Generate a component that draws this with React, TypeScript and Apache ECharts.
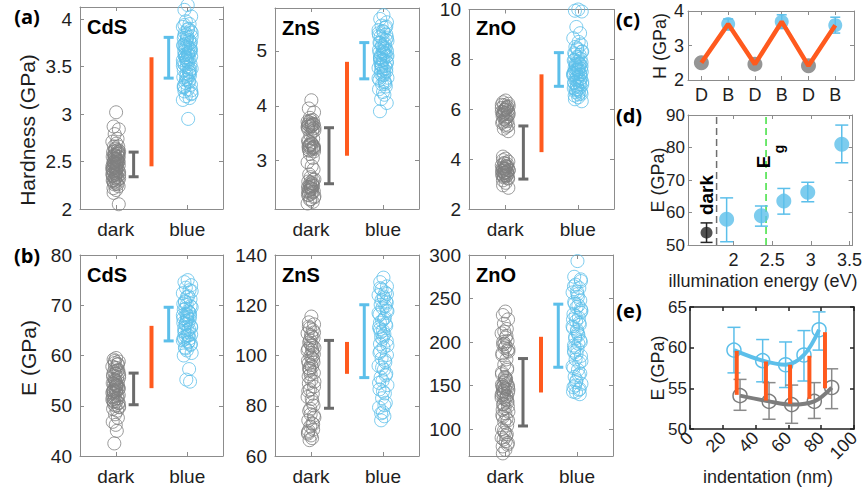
import React, { useEffect, useRef } from 'react';
import * as echarts from 'echarts';

const GRAY = '#808080';
const GRAY_ERR = '#6b6b6b';
const BLUE = '#5cbfea';
const ORANGE = '#ff5a1e';
const BOX = '#8c8c8c';
const TXT = '#1e1e1e';
const FONT = '"Liberation Sans", Arial, Helvetica, sans-serif';
const LABEL_FONT = '"Open Sans", "Liberation Sans", sans-serif';

// ---------- panels (a)/(b): categories and scatter values ----------
const groups = ['dark', 'blue'];
const groupX = [1, 2];
const barX = [1.25, 1.5, 1.74]; // gray errorbar, orange difference bar, blue errorbar
const jitter = [0.1, -0.6, 0.85, -0.3, 0.5, -0.95, 0.2, 0.7, -0.5, -0.1, 0.95, -0.75, 0.4, -0.2, 0.6, -0.85, 0.0, 0.3, -0.4, 0.8, -0.65];

// Hardness (GPa)
const hCdSDark = [3.02, 2.87, 2.84, 2.79, 2.74, 2.71, 2.69, 2.66, 2.66, 2.63, 2.61, 2.6, 2.58, 2.57, 2.55, 2.55, 2.53, 2.52, 2.5, 2.5, 2.49, 2.47, 2.46, 2.46, 2.44, 2.43, 2.42, 2.41, 2.4, 2.38, 2.38, 2.36, 2.35, 2.34, 2.32, 2.31, 2.3, 2.29, 2.27, 2.26, 2.24, 2.22, 2.2, 2.17, 2.05, 2.48, 2.52, 2.45, 2.37, 2.58,
  2.28, 2.33, 2.39, 2.44, 2.51, 2.56, 2.62, 2.35, 2.41, 2.47, 2.53, 2.59, 2.3, 2.43, 2.49, 2.55, 2.61, 2.26, 2.37, 2.45, 2.5, 2.57, 2.64, 2.32, 2.4, 2.48, 2.54, 2.6, 2.42, 2.36];
const hCdSBlue = [4.15, 4.1, 4.03, 3.98, 3.95, 3.92, 3.9, 3.88, 3.86, 3.84, 3.82, 3.8, 3.78, 3.77, 3.75, 3.73, 3.72, 3.7, 3.69, 3.67, 3.66, 3.64, 3.62, 3.61, 3.6, 3.58, 3.57, 3.55, 3.53, 3.52, 3.5, 3.48, 3.46, 3.45, 3.43, 3.41, 3.39, 3.37, 3.35, 3.33, 3.31, 3.29, 3.26, 3.24, 3.21, 3.19, 3.17, 3.15, 2.95, 3.7, 3.63, 3.56,
  3.22, 3.28, 3.34, 3.4, 3.47, 3.54, 3.59, 3.65, 3.71, 3.76, 3.83, 3.89, 3.94, 3.25, 3.36, 3.44, 3.51, 3.62, 3.68, 3.74, 3.79, 3.86, 3.3, 3.42, 3.57, 3.66, 3.72, 3.81, 3.49, 3.6];
const hZnSDark = [4.1, 3.95, 3.88, 3.78, 3.74, 3.71, 3.68, 3.66, 3.64, 3.62, 3.6, 3.57, 3.53, 3.47, 3.4, 3.36, 3.33, 3.3, 3.28, 3.26, 3.24, 3.22, 3.2, 3.17, 3.12, 3.05, 2.97, 2.9, 2.84, 2.75, 2.7, 2.66, 2.62, 2.59, 2.56, 2.54, 2.52, 2.5, 2.48, 2.46, 2.44, 2.42, 2.4, 2.37, 2.33, 2.29, 2.25, 2.22, 3.65, 3.25, 2.51,
  2.3, 2.35, 2.45, 2.55, 2.6, 2.65, 2.38, 2.49, 2.58, 3.18, 3.23, 3.27, 3.31, 3.35, 3.21, 3.29, 3.58, 3.61, 3.63, 3.67, 3.7, 3.73, 3.55, 3.66, 2.43, 2.53, 3.24, 3.62];
const hZnSBlue = [5.65, 5.58, 5.52, 5.46, 5.42, 5.38, 5.34, 5.3, 5.26, 5.22, 5.18, 5.15, 5.12, 5.08, 5.05, 5.02, 4.99, 4.96, 4.93, 4.9, 4.87, 4.84, 4.81, 4.78, 4.75, 4.72, 4.69, 4.66, 4.62, 4.58, 4.55, 4.51, 4.47, 4.43, 4.39, 4.35, 4.3, 4.25, 4.2, 4.12, 4.05, 3.9, 4.95, 4.85, 5.0, 4.7,
  4.4, 4.5, 4.6, 4.68, 4.76, 4.83, 4.91, 4.97, 5.04, 5.1, 5.2, 5.28, 5.36, 4.45, 4.64, 4.8, 4.88, 5.06, 5.14, 5.24, 4.73, 4.92, 5.32, 4.56, 5.44];
const hZnODark = [6.35, 6.28, 6.22, 6.16, 6.1, 6.05, 6.0, 5.95, 5.9, 5.85, 5.8, 5.74, 5.68, 5.6, 5.52, 5.45, 5.38, 5.3, 5.22, 5.12, 4.1, 4.02, 3.96, 3.9, 3.85, 3.8, 3.75, 3.71, 3.67, 3.63, 3.6, 3.56, 3.53, 3.5, 3.46, 3.43, 3.4, 3.36, 3.32, 3.27, 3.22, 3.15, 3.05, 2.95, 2.85, 3.58, 3.48, 5.9, 6.05,
  3.25, 3.35, 3.45, 3.55, 3.65, 3.72, 3.82, 3.38, 3.52, 3.62, 3.7, 3.44, 5.35, 5.5, 5.65, 5.78, 5.88, 5.98, 6.08, 6.18, 5.55, 5.72, 5.82, 5.97, 6.12, 3.33];
const hZnOBlue = [10.0, 9.95, 9.92, 9.3, 9.05, 8.85, 8.7, 8.6, 8.5, 8.4, 8.32, 8.25, 8.18, 8.1, 8.03, 7.96, 7.9, 7.84, 7.78, 7.72, 7.66, 7.6, 7.55, 7.5, 7.45, 7.4, 7.35, 7.3, 7.25, 7.2, 7.15, 7.1, 7.05, 7.0, 6.95, 6.9, 6.85, 6.8, 6.74, 6.68, 6.62, 6.55, 6.48, 6.4, 6.32, 7.6, 7.8, 7.4,
  6.6, 6.7, 6.8, 6.9, 7.0, 7.08, 7.18, 7.28, 7.38, 7.48, 7.58, 7.68, 7.75, 7.88, 7.98, 8.08, 8.2, 8.3, 6.75, 7.12, 7.42, 7.52, 7.62, 7.82, 8.45];

// Modulus E (GPa)
const eCdSDark = [59.5, 59.2, 58.8, 58.5, 58.2, 57.8, 57.5, 57.1, 56.8, 56.4, 56.1, 55.8, 55.5, 55.1, 54.8, 54.5, 54.2, 53.9, 53.6, 53.3, 53.0, 52.7, 52.4, 52.1, 51.8, 51.5, 51.2, 50.9, 50.6, 50.3, 50.0, 49.7, 49.4, 49.0, 48.3, 47.6, 46.8, 46.2, 45.0, 42.5, 53.5, 52.8, 54.0, 51.0,
  50.5, 51.3, 52.0, 52.6, 53.2, 53.8, 54.4, 55.0, 55.6, 56.2, 57.0, 57.6, 58.3, 51.7, 52.9, 54.1, 55.3, 56.6, 53.1, 54.7, 50.8, 49.8, 58.9];
const eCdSBlue = [75.0, 74.6, 74.0, 73.5, 73.0, 72.4, 71.8, 71.2, 70.6, 70.1, 69.6, 69.1, 68.6, 68.2, 67.8, 67.4, 67.0, 66.6, 66.2, 65.8, 65.4, 65.0, 64.6, 64.2, 63.8, 63.4, 63.0, 62.6, 62.1, 61.6, 61.0, 60.5, 60.0, 57.3, 55.2, 54.8, 66.5, 68.0, 64.0,
  61.4, 62.3, 63.2, 64.0, 64.9, 65.6, 66.4, 67.2, 68.0, 68.8, 69.8, 70.8, 71.6, 72.8, 63.6, 65.2, 66.9, 68.4, 70.3, 67.6, 62.8, 69.3];
const eZnSDark = [115.5, 113.2, 112.4, 110.9, 110.1, 108.8, 107.5, 106.9, 105.2, 104.6, 103.1, 102.7, 101.0, 99.8, 98.5, 97.9, 96.2, 95.4, 94.0, 93.1, 91.7, 90.2, 88.9, 87.6, 86.4, 84.8, 83.5, 82.7, 80.1, 77.9, 76.6, 75.3, 74.2, 73.0, 71.8, 70.5, 69.4, 68.2, 67.1, 66.3, 100.5, 96.8, 104.0,
  111.5, 109.2, 106.1, 103.8, 101.9, 99.1, 97.2, 95.0, 92.5, 89.6, 85.9, 81.5, 78.8, 72.6, 68.9, 108.1, 102.2, 94.7, 76.1, 70.0];
const eZnSBlue = [131.0, 129.2, 127.5, 126.3, 125.1, 124.0, 122.8, 121.5, 120.2, 119.0, 117.6, 116.3, 115.1, 113.8, 112.4, 111.2, 109.9, 108.5, 107.2, 105.9, 104.6, 103.1, 101.7, 100.2, 98.8, 97.3, 95.9, 94.4, 92.8, 91.3, 89.9, 88.2, 86.5, 84.9, 83.0, 81.2, 79.3, 77.4, 75.8, 74.2, 118.0, 110.5, 123.5,
  126.8, 124.5, 122.1, 119.6, 116.9, 114.5, 111.8, 109.3, 106.6, 104.0, 101.1, 98.2, 95.2, 92.1, 89.1, 85.7, 80.2, 77.0, 121.0, 113.1, 107.8];
const eZnODark = [235, 231, 226, 221, 215, 210, 205, 201, 197, 193, 189, 185, 180, 174, 168, 163, 159, 156, 153, 150, 148, 146, 144, 142, 140, 138, 136, 134, 131, 128, 124, 120, 116, 112, 108, 104, 100, 96, 92, 88, 84, 80, 76, 72, 148, 143, 152, 139, 195, 190,
  149, 147, 145, 141, 137, 135, 133, 151, 155, 158, 129, 126, 122, 118, 114, 110, 98, 94, 90, 86, 82, 200, 198, 192, 187, 207, 212, 170, 165, 160];
const eZnOBlue = [293, 275, 270, 266, 262, 257, 252, 248, 244, 240, 236, 232, 228, 224, 220, 216, 212, 208, 204, 200, 196, 192, 188, 184, 180, 176, 172, 168, 164, 160, 156, 152, 148, 145, 142, 140, 226, 214, 198, 150,
  272, 264, 255, 246, 238, 230, 222, 218, 210, 202, 194, 186, 178, 170, 162, 154, 146, 143, 258, 242, 206, 234, 190];

// [low, high] of gray errorbar, orange bar, blue errorbar
const hCdSBars = [[2.34, 2.6], [2.45, 3.6], [3.38, 3.81]];
const hZnSBars = [[2.58, 3.6], [3.09, 4.8], [4.49, 5.15]];
const hZnOBars = [[3.2, 5.33], [4.28, 7.4], [6.92, 8.27]];
const eCdSBars = [[50.2, 56.5], [53.5, 65.9], [62.9, 69.6]];
const eZnSBars = [[79, 106], [92.7, 105.4], [91.2, 120.2]];
const eZnOBars = [[103.5, 181], [142, 206], [171, 243.5]];

// ---------- panel (c) ----------
const cLabels = ['D', 'B', 'D', 'B', 'D', 'B'];
const cX = [1, 2, 3, 4, 5, 6];
const cH = [2.5, 3.62, 2.46, 3.69, 2.41, 3.59];
const cLow = [NaN, 3.47, NaN, 3.49, NaN, 3.36];
const cHigh = [NaN, 3.77, NaN, 3.89, NaN, 3.82];

// ---------- panel (d) ----------
const dDarkEnergy = [1.65];
const dDarkE = [53.8];
const dDarkLow = [50.8];
const dDarkHigh = [56.8];
const dEnergy = [1.91, 2.36, 2.65, 2.96, 3.4];
const dE = [57.9, 59.0, 63.5, 66.2, 81.0];
const dLow = [51.0, 55.8, 59.5, 63.3, 75.3];
const dHigh = [64.5, 62.0, 67.4, 69.3, 86.9];
const dDarkLine = 1.78;
const dGapLine = 2.42;

// ---------- panel (e) ----------
const eBlueX = [26.8, 44.3, 58.3, 69.5, 78.7];
const eBlueE = [59.7, 58.4, 57.9, 59.1, 62.2];
const eBlueLow = [56.9, 55.8, 55.1, 55.9, 59.7];
const eBlueHigh = [62.5, 61.0, 60.7, 62.1, 64.4];
const eGrayX = [30.5, 48.2, 62.0, 75.8, 86.4];
const eGrayE = [54.1, 53.4, 53.0, 53.4, 55.1];
const eGrayLow = [52.3, 51.2, 50.7, 51.3, 52.5];
const eGrayHigh = [56.1, 55.7, 55.4, 55.7, 57.4];
const eDiffX = [28.5, 46.3, 61.0, 72.8, 82.3];
const eDiffLow = [54.2, 53.5, 53.1, 53.7, 55.0];
const eDiffHigh = [59.6, 58.3, 57.9, 59.0, 61.9];

type AxisSpec = {
  min: number; max: number; ticks?: number[]; interval?: number;
  fmt?: (v: number) => string; size?: number; margin?: number; rotate?: number;
};

function errRender(colors: string[], widths: number[], caps: number[]) {
  return (params: any, api: any) => {
    const k = params.dataIndex % colors.length;
    const x = api.value(0), lo = api.value(1), hi = api.value(2);
    if (isNaN(lo) || isNaN(hi)) return { type: 'group', children: [] };
    const a = api.coord([x, lo]);
    const b = api.coord([x, hi]);
    const style = { stroke: colors[k], lineWidth: widths[k], fill: 'none' };
    const cap = caps[k];
    const children: any[] = [
      { type: 'line', shape: { x1: a[0], y1: a[1], x2: b[0], y2: b[1] }, style },
    ];
    if (cap > 0) {
      children.push({ type: 'line', shape: { x1: a[0] - cap, y1: a[1], x2: a[0] + cap, y2: a[1] }, style });
      children.push({ type: 'line', shape: { x1: b[0] - cap, y1: b[1], x2: b[0] + cap, y2: b[1] }, style });
    }
    return { type: 'group', children };
  };
}

function buildOption() {
  const o: any = { animation: false, backgroundColor: '#fff', grid: [], xAxis: [], yAxis: [], series: [], graphic: [] };

  const addPanel = (rect: number[], xs: AxisSpec, ys: AxisSpec, box = BOX, boxW = 1) => {
    const gi = o.grid.length;
    o.grid.push({ left: rect[0], top: rect[1], width: rect[2], height: rect[3], containLabel: false });
    const mk = (s: AxisSpec, pos: string, labels: boolean) => {
      const ax: any = {
        type: 'value', gridIndex: gi, position: pos, min: s.min, max: s.max,
        axisLine: { show: true, onZero: false, lineStyle: { color: box, width: boxW } },
        splitLine: { show: false },
        axisTick: { show: true, inside: true, length: 4, lineStyle: { color: box, width: boxW } },
        axisLabel: {
          show: labels, color: TXT, fontFamily: FONT, fontSize: s.size ?? 19,
          margin: s.margin ?? 8, rotate: s.rotate ?? 0,
        },
      };
      if (s.ticks) { ax.axisTick.customValues = s.ticks; ax.axisLabel.customValues = s.ticks; }
      if (s.interval) ax.interval = s.interval;
      if (s.fmt) ax.axisLabel.formatter = s.fmt;
      return ax;
    };
    const xi = o.xAxis.length;
    o.xAxis.push(mk(xs, 'bottom', true), mk(xs, 'top', false));
    const yi = o.yAxis.length;
    o.yAxis.push(mk(ys, 'left', true), mk(ys, 'right', false));
    return { xi, yi };
  };

  const text = (t: string, x: number, y: number, size: number, opts: any = {}) => {
    o.graphic.push({
      type: 'text', x, y, rotation: opts.rot ?? 0, silent: true, z: 100,
      style: {
        text: t, fill: opts.color ?? TXT, fontSize: size, fontFamily: opts.family ?? FONT,
        fontWeight: opts.bold ? 'bold' : 'normal', align: opts.align ?? 'center', verticalAlign: 'middle',
      },
    });
  };

  const groupFmt = (v: number) => groups[Math.round(v) - 1] ?? '';

  const scatterPanel = (rect: number[], yMin: number, yMax: number, yTicks: number[], dark: number[], blue: number[], bars: number[][], title: string) => {
    const ids = addPanel(rect,
      { min: 0.5, max: 2.5, ticks: groupX, fmt: groupFmt, margin: 11 },
      { min: yMin, max: yMax, ticks: yTicks, margin: 8 });
    const pts = (vals: number[], cx: number, spread: number) => vals.map((v, i) => [cx + jitter[i % jitter.length] * spread, v]);
    const sc = (data: number[][], color: string) => ({
      type: 'scatter', xAxisIndex: ids.xi, yAxisIndex: ids.yi, data, symbol: 'circle', symbolSize: 13,
      itemStyle: { color: 'rgba(0,0,0,0)', borderColor: color, borderWidth: 1 }, clip: false, silent: true, z: 2,
    });
    o.series.push(sc(pts(dark, groupX[0], 0.05), GRAY));
    o.series.push(sc(pts(blue, groupX[1], 0.065), BLUE));
    o.series.push({
      type: 'custom', xAxisIndex: ids.xi, yAxisIndex: ids.yi, silent: true, z: 3,
      data: bars.map((b, k) => [barX[k], b[0], b[1]]),
      renderItem: errRender([GRAY_ERR, ORANGE, BLUE], [3, 4, 3], [5, 0, 5]),
    });
    text(title, rect[0] + 7, rect[1] + 20, 20, { bold: true, align: 'left', color: '#000' });
  };

  // row (a)
  scatterPanel([80, 7, 143, 202], 2, 4.13, [2, 2.5, 3, 3.5, 4], hCdSDark, hCdSBlue, hCdSBars, 'CdS');
  scatterPanel([275, 8, 144, 201], 2.12, 5.78, [3, 4, 5], hZnSDark, hZnSBlue, hZnSBars, 'ZnS');
  scatterPanel([469, 8, 145, 201], 2, 10, [2, 4, 6, 8, 10], hZnODark, hZnOBlue, hZnOBars, 'ZnO');
  // row (b)
  scatterPanel([80, 255, 143, 201], 40, 80, [40, 50, 60, 70, 80], eCdSDark, eCdSBlue, eCdSBars, 'CdS');
  scatterPanel([275, 255, 144, 201], 60, 140, [60, 80, 100, 120, 140], eZnSDark, eZnSBlue, eZnSBars, 'ZnS');
  scatterPanel([469, 255, 144, 201], 69, 300, [100, 150, 200, 250, 300], eZnODark, eZnOBlue, eZnOBars, 'ZnO');

  // panel (c)
  const c = addPanel([688, 11, 166, 69],
    { min: 0.5, max: 6.7, ticks: cX, fmt: (v: number) => cLabels[Math.round(v) - 1] ?? '', size: 18, margin: 6 },
    { min: 2, max: 4, interval: 1, size: 18, margin: 4 });
  o.series.push({
    type: 'custom', xAxisIndex: c.xi, yAxisIndex: c.yi, silent: true, z: 2,
    data: cX.map((x, i) => [x, cLow[i], cHigh[i]]),
    renderItem: errRender([BLUE], [1.5], [5]),
  });
  o.series.push({
    type: 'scatter', xAxisIndex: c.xi, yAxisIndex: c.yi, symbolSize: 15, silent: true, z: 3,
    data: cX.map((x, i) => [x, cH[i]]).filter((_, i) => cLabels[i] === 'D'),
    itemStyle: { color: '#7a7a7a' },
  });
  o.series.push({
    type: 'scatter', xAxisIndex: c.xi, yAxisIndex: c.yi, symbolSize: 14, silent: true, z: 3,
    data: cX.map((x, i) => [x, cH[i]]).filter((_, i) => cLabels[i] === 'B'),
    itemStyle: { color: BLUE },
  });
  o.series.push({
    type: 'line', xAxisIndex: c.xi, yAxisIndex: c.yi, symbol: 'none', silent: true, z: 4,
    data: cX.map((x, i) => [x, cH[i]]), lineStyle: { color: ORANGE, width: 4.5 },
  });

  // panel (d)
  const d = addPanel([688, 115, 167, 130],
    { min: 1.41, max: 3.54, ticks: [2, 2.5, 3, 3.5], size: 18, margin: 6 },
    { min: 50, max: 90, interval: 10, size: 17, margin: 3 });
  o.series.push({
    type: 'line', xAxisIndex: d.xi, yAxisIndex: d.yi, symbol: 'none', silent: true, z: 1,
    data: [[dDarkLine, 50], [dDarkLine, 90]], lineStyle: { color: '#6e6e6e', width: 1.5, type: [7, 4] },
  });
  o.series.push({
    type: 'line', xAxisIndex: d.xi, yAxisIndex: d.yi, symbol: 'none', silent: true, z: 1,
    data: [[dGapLine, 50], [dGapLine, 90]], lineStyle: { color: '#3ee03e', width: 1.5, type: [7, 4] },
  });
  o.series.push({
    type: 'custom', xAxisIndex: d.xi, yAxisIndex: d.yi, silent: true, z: 2,
    data: dEnergy.map((x, i) => [x, dLow[i], dHigh[i]]),
    renderItem: errRender([BLUE], [1.5], [6.5]),
  });
  o.series.push({
    type: 'custom', xAxisIndex: d.xi, yAxisIndex: d.yi, silent: true, z: 2,
    data: dDarkEnergy.map((x, i) => [x, dDarkLow[i], dDarkHigh[i]]),
    renderItem: errRender(['#262626'], [1.5], [6]),
  });
  o.series.push({
    type: 'scatter', xAxisIndex: d.xi, yAxisIndex: d.yi, symbolSize: 15, silent: true, z: 3, clip: false,
    data: dEnergy.map((x, i) => [x, dE[i]]), itemStyle: { color: BLUE },
  });
  o.series.push({
    type: 'scatter', xAxisIndex: d.xi, yAxisIndex: d.yi, symbolSize: 12, silent: true, z: 3, clip: false,
    data: dDarkEnergy.map((x, i) => [x, dDarkE[i]]), itemStyle: { color: '#262626' },
  });

  // panel (e)
  const e = addPanel([690, 307, 164, 122],
    { min: 0, max: 100, interval: 20, size: 18, margin: 6, rotate: 45 },
    { min: 50, max: 65, interval: 5, size: 17, margin: 3 }, '#222', 1.5);
  o.series.push({
    type: 'custom', xAxisIndex: e.xi, yAxisIndex: e.yi, silent: true, z: 1,
    data: eBlueX.map((x, i) => [x, eBlueLow[i], eBlueHigh[i]]),
    renderItem: errRender([BLUE], [1.5], [6.5]),
  });
  o.series.push({
    type: 'custom', xAxisIndex: e.xi, yAxisIndex: e.yi, silent: true, z: 1,
    data: eGrayX.map((x, i) => [x, eGrayLow[i], eGrayHigh[i]]),
    renderItem: errRender(['#8a8a8a'], [1.5], [6.5]),
  });
  const eLine = (xs: number[], ys: number[], color: string) => ({
    type: 'line', xAxisIndex: e.xi, yAxisIndex: e.yi, silent: true, z: 2, smooth: 0.35,
    data: xs.map((x, i) => [x, ys[i]]), symbol: 'circle', symbolSize: 14, showSymbol: true,
    lineStyle: { color, width: 4 },
    itemStyle: { color: 'rgba(0,0,0,0)', borderColor: color, borderWidth: 1.5 },
  });
  o.series.push(eLine(eBlueX, eBlueE, BLUE));
  o.series.push(eLine(eGrayX, eGrayE, '#7d7d7d'));
  o.series.push({
    type: 'custom', xAxisIndex: e.xi, yAxisIndex: e.yi, silent: true, z: 4,
    data: eDiffX.map((x, i) => [x, eDiffLow[i], eDiffHigh[i]]),
    renderItem: errRender([ORANGE], [4], [0]),
  });

  // texts
  const R = Math.PI / 2;
  text('(a)', 27, 16, 20, { bold: true, family: LABEL_FONT, color: '#000' });
  text('(b)', 27, 255, 20, { bold: true, family: LABEL_FONT, color: '#000' });
  text('(c)', 628, 19, 20, { bold: true, family: LABEL_FONT, color: '#000' });
  text('(d)', 629, 115, 20, { bold: true, family: LABEL_FONT, color: '#000' });
  text('(e)', 629, 310, 20, { bold: true, family: LABEL_FONT, color: '#000' });
  text('Hardness (GPa)', 27, 130, 21, { rot: R });
  text('E (GPa)', 28, 358, 21, { rot: R });
  text('H (GPa)', 660, 46, 18, { rot: R });
  text('E (GPa)', 658, 180, 18, { rot: R });
  text('E (GPa)', 658, 368, 18, { rot: R });
  text('illumination energy (eV)', 763, 281, 18);
  text('indentation (nm)', 768, 477, 18);
  text('dark', 706, 195, 19, { rot: R, bold: true, color: '#000' });
  text('E', 763, 162, 19, { rot: R, bold: true, color: '#000' });
  text('g', 779, 149, 14, { rot: R, bold: true, color: '#000' });

  return o;
}

export default function App() {
  const ref = useRef<HTMLDivElement>(null);
  useEffect(() => {
    document.body.style.margin = '0';
    const chart = echarts.init(ref.current as HTMLDivElement, null, { renderer: 'svg' });
    chart.setOption(buildOption());
    return () => chart.dispose();
  }, []);
  return <div ref={ref} style={{ position: 'absolute', left: 0, top: 0, width: 865, height: 495, background: '#fff' }} />;
}
